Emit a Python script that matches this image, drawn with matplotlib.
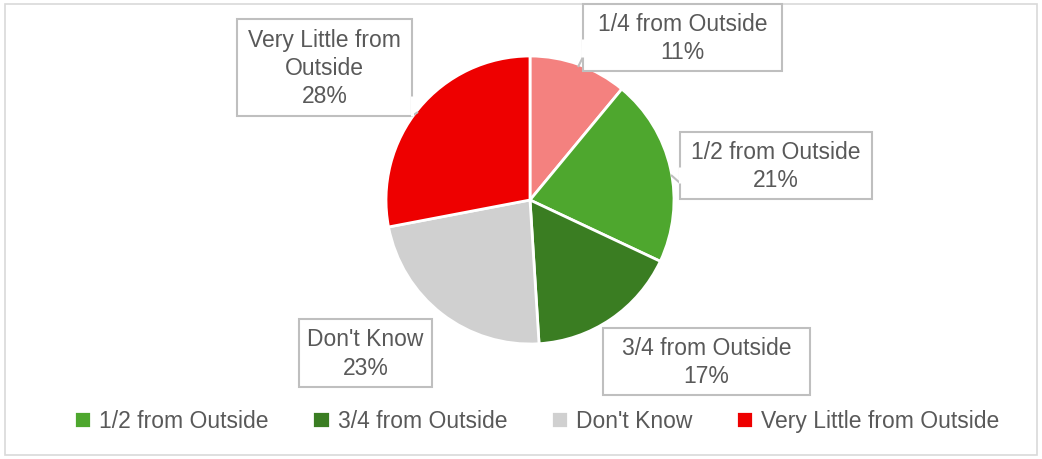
import matplotlib.pyplot as plt
from matplotlib.patches import Rectangle, Polygon

plt.rcParams['font.family'] = ['Liberation Sans', 'DejaVu Sans']

categories = ["1/4 from Outside", "1/2 from Outside", "3/4 from Outside",
              "Don't Know", "Very Little from Outside"]
shares = [11, 21, 17, 23, 28]
colors = ["#F4817F", "#4EA72E", "#3A7D22", "#D0D0D0", "#EE0000"]
box_text = ["1/4 from Outside", "1/2 from Outside", "3/4 from Outside",
            "Don't Know", "Very Little from\nOutside"]

W, H = 1042, 460
fig = plt.figure(figsize=(W / 100, H / 100), dpi=100)
ax = fig.add_axes([0, 0, 1, 1])

# chart frame
ax.add_patch(Rectangle((5, 4), W - 10, H - 9, fill=False, ec="#D9D9D9", lw=1.2))

wedges, _ = ax.pie(shares, colors=colors, startangle=90, counterclock=False,
                   center=(530, H - 201), radius=144, frame=True,
                   wedgeprops=dict(edgecolor="white", linewidth=2))
ax.set_xlim(0, W)
ax.set_ylim(0, H)
ax.set_aspect("equal")
ax.axis("off")

# label boxes: (x0, y0_top, width, height) in pixels from top-left, pointer (base1, base2, tip)
boxes = [
    ((583, 5, 199, 67), [(583, 40), (583, 58), (578, 68)]),
    ((680, 133, 192, 67), [(680, 168), (680, 184), (671, 176)]),
    ((603, 329, 207, 67), None),
    ((299, 320, 133, 68), None),
    ((237, 20, 175, 97), [(412, 97), (412, 117), (418, 113)]),
]
edge = "#BFBFBF"
for (rect, ptr), txt, val in zip(boxes, box_text, shares):
    x0, y0, w, h = rect
    ax.add_patch(Rectangle((x0, H - y0 - h), w, h, fc="white", ec=edge, lw=1.5, zorder=3))
    if ptr is not None:
        pts = [(px, H - py) for px, py in ptr]
        ax.add_patch(Polygon(pts, closed=False, fc="white", ec=edge, lw=1.5, zorder=4))
        ax.plot([pts[0][0], pts[1][0]], [pts[0][1], pts[1][1]], color="white", lw=2.2,
                zorder=5, solid_capstyle="butt")
    ax.text(x0 + w / 2, H - y0 - h / 2, f"{txt}\n{val}%", ha="center", va="center",
            fontsize=16.5, color="#595959", linespacing=1.3, zorder=6)

leg = ax.legend(wedges[1:], categories[1:], loc="center", ncol=4,
                bbox_to_anchor=(0.515, 1 - 422 / H), frameon=False, fontsize=16.5,
                handlelength=0.75, handleheight=0.75, handletextpad=0.35, columnspacing=1.9)
for t in leg.get_texts():
    t.set_color("#595959")

fig.savefig("out.png", dpi=100, facecolor="white")
